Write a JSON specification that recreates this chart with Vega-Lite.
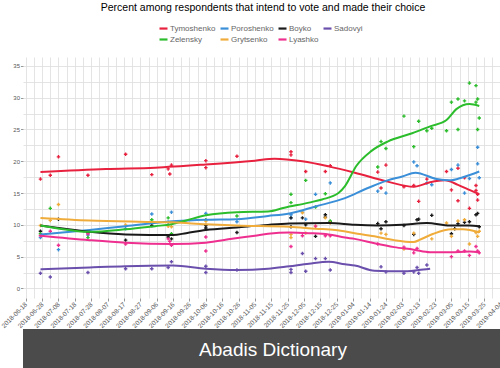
{
  "$schema": "https://vega.github.io/schema/vega-lite/v6.json",
  "padding": {"top": 2, "left": 0, "right": 0, "bottom": 0},
  "spacing": 0,
  "config": {"view": {"stroke": null}, "font": "Liberation Sans"},
  "datasets": {
    "polls": [
      {"date": "2018-06-27", "candidate": "Tymoshenko", "value": 17.2},
      {"date": "2018-07-03", "candidate": "Tymoshenko", "value": 17.8},
      {"date": "2018-07-08", "candidate": "Tymoshenko", "value": 20.7},
      {"date": "2018-07-26", "candidate": "Tymoshenko", "value": 17.8},
      {"date": "2018-08-18", "candidate": "Tymoshenko", "value": 21.1},
      {"date": "2018-09-03", "candidate": "Tymoshenko", "value": 17.9},
      {"date": "2018-09-13", "candidate": "Tymoshenko", "value": 18.8},
      {"date": "2018-09-14", "candidate": "Tymoshenko", "value": 18.0},
      {"date": "2018-09-15", "candidate": "Tymoshenko", "value": 19.4},
      {"date": "2018-10-06", "candidate": "Tymoshenko", "value": 20.1},
      {"date": "2018-10-06", "candidate": "Tymoshenko", "value": 19.0},
      {"date": "2018-10-25", "candidate": "Tymoshenko", "value": 20.8},
      {"date": "2018-11-27", "candidate": "Tymoshenko", "value": 21.5},
      {"date": "2018-11-27", "candidate": "Tymoshenko", "value": 21.0},
      {"date": "2018-12-06", "candidate": "Tymoshenko", "value": 18.4},
      {"date": "2018-12-18", "candidate": "Tymoshenko", "value": 18.4},
      {"date": "2018-12-21", "candidate": "Tymoshenko", "value": 19.3},
      {"date": "2019-01-19", "candidate": "Tymoshenko", "value": 18.3},
      {"date": "2019-01-21", "candidate": "Tymoshenko", "value": 15.8},
      {"date": "2019-01-24", "candidate": "Tymoshenko", "value": 19.4},
      {"date": "2019-02-04", "candidate": "Tymoshenko", "value": 16.0},
      {"date": "2019-02-10", "candidate": "Tymoshenko", "value": 16.2},
      {"date": "2019-02-13", "candidate": "Tymoshenko", "value": 13.7},
      {"date": "2019-02-18", "candidate": "Tymoshenko", "value": 17.2},
      {"date": "2019-03-02", "candidate": "Tymoshenko", "value": 18.4},
      {"date": "2019-03-05", "candidate": "Tymoshenko", "value": 15.5},
      {"date": "2019-03-09", "candidate": "Tymoshenko", "value": 18.9},
      {"date": "2019-03-09", "candidate": "Tymoshenko", "value": 13.8},
      {"date": "2019-03-13", "candidate": "Tymoshenko", "value": 17.4},
      {"date": "2019-03-16", "candidate": "Tymoshenko", "value": 12.6},
      {"date": "2019-03-20", "candidate": "Tymoshenko", "value": 16.2},
      {"date": "2019-03-20", "candidate": "Tymoshenko", "value": 15.4},
      {"date": "2019-03-21", "candidate": "Tymoshenko", "value": 14.8},
      {"date": "2019-03-21", "candidate": "Tymoshenko", "value": 13.9},
      {"date": "2018-06-27", "candidate": "Poroshenko", "value": 8.0},
      {"date": "2018-07-08", "candidate": "Poroshenko", "value": 6.1},
      {"date": "2018-07-26", "candidate": "Poroshenko", "value": 8.4},
      {"date": "2018-08-18", "candidate": "Poroshenko", "value": 9.4},
      {"date": "2018-09-03", "candidate": "Poroshenko", "value": 11.7},
      {"date": "2018-09-13", "candidate": "Poroshenko", "value": 10.4},
      {"date": "2018-09-15", "candidate": "Poroshenko", "value": 12.0},
      {"date": "2018-10-06", "candidate": "Poroshenko", "value": 11.8},
      {"date": "2018-10-25", "candidate": "Poroshenko", "value": 10.5},
      {"date": "2018-11-27", "candidate": "Poroshenko", "value": 11.6},
      {"date": "2018-11-27", "candidate": "Poroshenko", "value": 11.1},
      {"date": "2018-12-04", "candidate": "Poroshenko", "value": 12.0},
      {"date": "2018-12-06", "candidate": "Poroshenko", "value": 10.9},
      {"date": "2018-12-12", "candidate": "Poroshenko", "value": 14.8},
      {"date": "2018-12-21", "candidate": "Poroshenko", "value": 16.6},
      {"date": "2019-01-19", "candidate": "Poroshenko", "value": 15.3},
      {"date": "2019-01-24", "candidate": "Poroshenko", "value": 15.0},
      {"date": "2019-02-10", "candidate": "Poroshenko", "value": 19.9},
      {"date": "2019-02-12", "candidate": "Poroshenko", "value": 19.3},
      {"date": "2019-02-18", "candidate": "Poroshenko", "value": 16.6},
      {"date": "2019-02-21", "candidate": "Poroshenko", "value": 16.3},
      {"date": "2019-03-05", "candidate": "Poroshenko", "value": 18.7},
      {"date": "2019-03-09", "candidate": "Poroshenko", "value": 19.4},
      {"date": "2019-03-13", "candidate": "Poroshenko", "value": 15.0},
      {"date": "2019-03-16", "candidate": "Poroshenko", "value": 17.3},
      {"date": "2019-03-21", "candidate": "Poroshenko", "value": 22.2},
      {"date": "2019-03-21", "candidate": "Poroshenko", "value": 19.6},
      {"date": "2019-03-22", "candidate": "Poroshenko", "value": 17.4},
      {"date": "2018-06-27", "candidate": "Boyko", "value": 9.0},
      {"date": "2018-07-08", "candidate": "Boyko", "value": 10.9},
      {"date": "2018-07-26", "candidate": "Boyko", "value": 8.8},
      {"date": "2018-08-18", "candidate": "Boyko", "value": 7.6},
      {"date": "2018-09-03", "candidate": "Boyko", "value": 9.9},
      {"date": "2018-09-13", "candidate": "Boyko", "value": 8.1},
      {"date": "2018-09-15", "candidate": "Boyko", "value": 7.8},
      {"date": "2018-10-06", "candidate": "Boyko", "value": 9.9},
      {"date": "2018-10-06", "candidate": "Boyko", "value": 9.5},
      {"date": "2018-10-25", "candidate": "Boyko", "value": 8.8},
      {"date": "2018-11-27", "candidate": "Boyko", "value": 11.1},
      {"date": "2018-11-27", "candidate": "Boyko", "value": 9.7},
      {"date": "2018-12-04", "candidate": "Boyko", "value": 11.1},
      {"date": "2018-12-06", "candidate": "Boyko", "value": 10.0},
      {"date": "2018-12-12", "candidate": "Boyko", "value": 8.2},
      {"date": "2018-12-18", "candidate": "Boyko", "value": 11.6},
      {"date": "2018-12-18", "candidate": "Boyko", "value": 11.2},
      {"date": "2018-12-21", "candidate": "Boyko", "value": 10.5},
      {"date": "2019-01-19", "candidate": "Boyko", "value": 10.2},
      {"date": "2019-01-21", "candidate": "Boyko", "value": 9.4},
      {"date": "2019-01-24", "candidate": "Boyko", "value": 10.5},
      {"date": "2019-02-04", "candidate": "Boyko", "value": 9.9},
      {"date": "2019-02-10", "candidate": "Boyko", "value": 8.5},
      {"date": "2019-02-12", "candidate": "Boyko", "value": 10.8},
      {"date": "2019-02-13", "candidate": "Boyko", "value": 10.9},
      {"date": "2019-02-21", "candidate": "Boyko", "value": 11.5},
      {"date": "2019-03-05", "candidate": "Boyko", "value": 8.6},
      {"date": "2019-03-07", "candidate": "Boyko", "value": 9.4},
      {"date": "2019-03-09", "candidate": "Boyko", "value": 10.2},
      {"date": "2019-03-13", "candidate": "Boyko", "value": 10.4},
      {"date": "2019-03-16", "candidate": "Boyko", "value": 10.5},
      {"date": "2019-03-20", "candidate": "Boyko", "value": 11.6},
      {"date": "2019-03-21", "candidate": "Boyko", "value": 11.8},
      {"date": "2019-03-22", "candidate": "Boyko", "value": 9.7},
      {"date": "2018-06-27", "candidate": "Sadovyi", "value": 2.4},
      {"date": "2018-07-03", "candidate": "Sadovyi", "value": 1.8},
      {"date": "2018-07-26", "candidate": "Sadovyi", "value": 2.5},
      {"date": "2018-08-18", "candidate": "Sadovyi", "value": 3.1},
      {"date": "2018-09-03", "candidate": "Sadovyi", "value": 3.1},
      {"date": "2018-09-13", "candidate": "Sadovyi", "value": 3.3},
      {"date": "2018-09-15", "candidate": "Sadovyi", "value": 4.2},
      {"date": "2018-10-06", "candidate": "Sadovyi", "value": 3.5},
      {"date": "2018-10-06", "candidate": "Sadovyi", "value": 2.5},
      {"date": "2018-10-25", "candidate": "Sadovyi", "value": 2.9},
      {"date": "2018-11-27", "candidate": "Sadovyi", "value": 3.0},
      {"date": "2018-11-27", "candidate": "Sadovyi", "value": 2.5},
      {"date": "2018-12-04", "candidate": "Sadovyi", "value": 5.5},
      {"date": "2018-12-06", "candidate": "Sadovyi", "value": 2.7},
      {"date": "2018-12-12", "candidate": "Sadovyi", "value": 4.7},
      {"date": "2018-12-18", "candidate": "Sadovyi", "value": 4.7},
      {"date": "2018-12-21", "candidate": "Sadovyi", "value": 2.9},
      {"date": "2019-01-21", "candidate": "Sadovyi", "value": 3.4},
      {"date": "2019-01-24", "candidate": "Sadovyi", "value": 2.6},
      {"date": "2019-02-04", "candidate": "Sadovyi", "value": 2.4},
      {"date": "2019-02-10", "candidate": "Sadovyi", "value": 2.6},
      {"date": "2019-02-12", "candidate": "Sadovyi", "value": 3.3},
      {"date": "2019-02-13", "candidate": "Sadovyi", "value": 2.4},
      {"date": "2019-02-18", "candidate": "Sadovyi", "value": 3.7},
      {"date": "2018-06-27", "candidate": "Zelensky", "value": 8.6},
      {"date": "2018-07-03", "candidate": "Zelensky", "value": 12.6},
      {"date": "2018-07-26", "candidate": "Zelensky", "value": 8.0},
      {"date": "2018-09-03", "candidate": "Zelensky", "value": 10.8},
      {"date": "2018-09-13", "candidate": "Zelensky", "value": 11.1},
      {"date": "2018-09-15", "candidate": "Zelensky", "value": 8.6},
      {"date": "2018-10-06", "candidate": "Zelensky", "value": 10.8},
      {"date": "2018-10-25", "candidate": "Zelensky", "value": 11.4},
      {"date": "2018-11-27", "candidate": "Zelensky", "value": 14.8},
      {"date": "2018-11-27", "candidate": "Zelensky", "value": 13.5},
      {"date": "2018-12-06", "candidate": "Zelensky", "value": 17.0},
      {"date": "2018-12-12", "candidate": "Zelensky", "value": 12.8},
      {"date": "2018-12-18", "candidate": "Zelensky", "value": 14.9},
      {"date": "2018-12-21", "candidate": "Zelensky", "value": 10.6},
      {"date": "2019-01-19", "candidate": "Zelensky", "value": 19.1},
      {"date": "2019-01-21", "candidate": "Zelensky", "value": 23.1},
      {"date": "2019-01-24", "candidate": "Zelensky", "value": 22.0},
      {"date": "2019-02-04", "candidate": "Zelensky", "value": 27.1},
      {"date": "2019-02-10", "candidate": "Zelensky", "value": 22.3},
      {"date": "2019-02-13", "candidate": "Zelensky", "value": 26.3},
      {"date": "2019-02-18", "candidate": "Zelensky", "value": 24.8},
      {"date": "2019-02-21", "candidate": "Zelensky", "value": 25.2},
      {"date": "2019-03-02", "candidate": "Zelensky", "value": 24.8},
      {"date": "2019-03-05", "candidate": "Zelensky", "value": 29.3},
      {"date": "2019-03-09", "candidate": "Zelensky", "value": 29.8},
      {"date": "2019-03-09", "candidate": "Zelensky", "value": 25.0},
      {"date": "2019-03-13", "candidate": "Zelensky", "value": 29.5},
      {"date": "2019-03-16", "candidate": "Zelensky", "value": 32.3},
      {"date": "2019-03-20", "candidate": "Zelensky", "value": 31.9},
      {"date": "2019-03-20", "candidate": "Zelensky", "value": 29.3},
      {"date": "2019-03-21", "candidate": "Zelensky", "value": 29.8},
      {"date": "2019-03-21", "candidate": "Zelensky", "value": 25.0},
      {"date": "2019-03-22", "candidate": "Zelensky", "value": 26.8},
      {"date": "2018-06-27", "candidate": "Grytsenko", "value": 9.9},
      {"date": "2018-07-03", "candidate": "Grytsenko", "value": 10.7},
      {"date": "2018-07-08", "candidate": "Grytsenko", "value": 13.2},
      {"date": "2018-08-18", "candidate": "Grytsenko", "value": 10.0},
      {"date": "2018-09-13", "candidate": "Grytsenko", "value": 9.8},
      {"date": "2018-09-15", "candidate": "Grytsenko", "value": 9.7},
      {"date": "2018-10-06", "candidate": "Grytsenko", "value": 10.6},
      {"date": "2018-11-27", "candidate": "Grytsenko", "value": 8.5},
      {"date": "2018-11-27", "candidate": "Grytsenko", "value": 8.0},
      {"date": "2018-12-04", "candidate": "Grytsenko", "value": 11.9},
      {"date": "2018-12-06", "candidate": "Grytsenko", "value": 8.7},
      {"date": "2018-12-12", "candidate": "Grytsenko", "value": 9.8},
      {"date": "2018-12-18", "candidate": "Grytsenko", "value": 11.1},
      {"date": "2018-12-21", "candidate": "Grytsenko", "value": 10.3},
      {"date": "2019-01-21", "candidate": "Grytsenko", "value": 8.7},
      {"date": "2019-01-24", "candidate": "Grytsenko", "value": 8.5},
      {"date": "2019-02-04", "candidate": "Grytsenko", "value": 6.2},
      {"date": "2019-02-10", "candidate": "Grytsenko", "value": 8.7},
      {"date": "2019-02-21", "candidate": "Grytsenko", "value": 7.8},
      {"date": "2019-03-02", "candidate": "Grytsenko", "value": 10.3},
      {"date": "2019-03-05", "candidate": "Grytsenko", "value": 8.2},
      {"date": "2019-03-09", "candidate": "Grytsenko", "value": 10.6},
      {"date": "2019-03-13", "candidate": "Grytsenko", "value": 10.8},
      {"date": "2019-03-16", "candidate": "Grytsenko", "value": 7.0},
      {"date": "2019-03-20", "candidate": "Grytsenko", "value": 8.8},
      {"date": "2019-03-21", "candidate": "Grytsenko", "value": 8.2},
      {"date": "2019-03-22", "candidate": "Grytsenko", "value": 9.0},
      {"date": "2018-06-27", "candidate": "Lyashko", "value": 8.3},
      {"date": "2018-07-03", "candidate": "Lyashko", "value": 9.0},
      {"date": "2018-07-08", "candidate": "Lyashko", "value": 6.8},
      {"date": "2018-07-26", "candidate": "Lyashko", "value": 8.6},
      {"date": "2018-08-18", "candidate": "Lyashko", "value": 7.0},
      {"date": "2018-09-13", "candidate": "Lyashko", "value": 7.8},
      {"date": "2018-09-14", "candidate": "Lyashko", "value": 7.4},
      {"date": "2018-09-15", "candidate": "Lyashko", "value": 6.8},
      {"date": "2018-10-06", "candidate": "Lyashko", "value": 8.1},
      {"date": "2018-10-06", "candidate": "Lyashko", "value": 5.9},
      {"date": "2018-11-27", "candidate": "Lyashko", "value": 6.6},
      {"date": "2018-12-04", "candidate": "Lyashko", "value": 8.3},
      {"date": "2018-12-12", "candidate": "Lyashko", "value": 9.8},
      {"date": "2018-12-18", "candidate": "Lyashko", "value": 8.3},
      {"date": "2018-12-21", "candidate": "Lyashko", "value": 8.3},
      {"date": "2019-01-19", "candidate": "Lyashko", "value": 7.0},
      {"date": "2019-02-04", "candidate": "Lyashko", "value": 6.5},
      {"date": "2019-02-10", "candidate": "Lyashko", "value": 5.6},
      {"date": "2019-02-12", "candidate": "Lyashko", "value": 6.3},
      {"date": "2019-03-05", "candidate": "Lyashko", "value": 5.0},
      {"date": "2019-03-09", "candidate": "Lyashko", "value": 5.9},
      {"date": "2019-03-13", "candidate": "Lyashko", "value": 5.9},
      {"date": "2019-03-16", "candidate": "Lyashko", "value": 5.2},
      {"date": "2019-03-20", "candidate": "Lyashko", "value": 6.6},
      {"date": "2019-03-21", "candidate": "Lyashko", "value": 5.9},
      {"date": "2019-03-22", "candidate": "Lyashko", "value": 5.6}
    ],
    "trend": [
      {"date": "2018-06-27", "candidate": "Tymoshenko", "value": 18.3},
      {"date": "2018-08-06", "candidate": "Tymoshenko", "value": 18.8},
      {"date": "2018-09-05", "candidate": "Tymoshenko", "value": 19.0},
      {"date": "2018-10-06", "candidate": "Tymoshenko", "value": 19.5},
      {"date": "2018-11-05", "candidate": "Tymoshenko", "value": 20.1},
      {"date": "2018-11-17", "candidate": "Tymoshenko", "value": 20.4},
      {"date": "2018-12-04", "candidate": "Tymoshenko", "value": 20.0},
      {"date": "2018-12-20", "candidate": "Tymoshenko", "value": 19.2},
      {"date": "2019-01-05", "candidate": "Tymoshenko", "value": 18.2},
      {"date": "2019-01-25", "candidate": "Tymoshenko", "value": 16.8},
      {"date": "2019-02-10", "candidate": "Tymoshenko", "value": 16.0},
      {"date": "2019-02-20", "candidate": "Tymoshenko", "value": 16.7},
      {"date": "2019-03-01", "candidate": "Tymoshenko", "value": 17.0},
      {"date": "2019-03-09", "candidate": "Tymoshenko", "value": 16.3},
      {"date": "2019-03-16", "candidate": "Tymoshenko", "value": 15.5},
      {"date": "2019-03-22", "candidate": "Tymoshenko", "value": 14.8},
      {"date": "2018-06-27", "candidate": "Poroshenko", "value": 8.5},
      {"date": "2018-07-27", "candidate": "Poroshenko", "value": 9.2},
      {"date": "2018-08-18", "candidate": "Poroshenko", "value": 9.8},
      {"date": "2018-09-18", "candidate": "Poroshenko", "value": 10.6},
      {"date": "2018-10-06", "candidate": "Poroshenko", "value": 10.8},
      {"date": "2018-10-25", "candidate": "Poroshenko", "value": 10.9},
      {"date": "2018-11-13", "candidate": "Poroshenko", "value": 11.4},
      {"date": "2018-11-26", "candidate": "Poroshenko", "value": 11.8},
      {"date": "2018-12-12", "candidate": "Poroshenko", "value": 12.9},
      {"date": "2018-12-30", "candidate": "Poroshenko", "value": 14.2},
      {"date": "2019-01-13", "candidate": "Poroshenko", "value": 15.8},
      {"date": "2019-01-25", "candidate": "Poroshenko", "value": 17.0},
      {"date": "2019-02-03", "candidate": "Poroshenko", "value": 17.6},
      {"date": "2019-02-11", "candidate": "Poroshenko", "value": 18.2},
      {"date": "2019-02-24", "candidate": "Poroshenko", "value": 17.2},
      {"date": "2019-03-04", "candidate": "Poroshenko", "value": 17.0},
      {"date": "2019-03-12", "candidate": "Poroshenko", "value": 17.5},
      {"date": "2019-03-22", "candidate": "Poroshenko", "value": 18.4},
      {"date": "2018-06-27", "candidate": "Boyko", "value": 9.9},
      {"date": "2018-07-08", "candidate": "Boyko", "value": 9.5},
      {"date": "2018-07-27", "candidate": "Boyko", "value": 8.9},
      {"date": "2018-08-18", "candidate": "Boyko", "value": 8.5},
      {"date": "2018-09-16", "candidate": "Boyko", "value": 8.4},
      {"date": "2018-09-24", "candidate": "Boyko", "value": 8.7},
      {"date": "2018-10-06", "candidate": "Boyko", "value": 9.2},
      {"date": "2018-10-25", "candidate": "Boyko", "value": 9.6},
      {"date": "2018-11-13", "candidate": "Boyko", "value": 10.0},
      {"date": "2018-11-26", "candidate": "Boyko", "value": 10.2},
      {"date": "2018-12-20", "candidate": "Boyko", "value": 10.3},
      {"date": "2019-01-05", "candidate": "Boyko", "value": 10.0},
      {"date": "2019-01-19", "candidate": "Boyko", "value": 9.9},
      {"date": "2019-02-03", "candidate": "Boyko", "value": 10.0},
      {"date": "2019-02-18", "candidate": "Boyko", "value": 10.3},
      {"date": "2019-03-04", "candidate": "Boyko", "value": 9.9},
      {"date": "2019-03-16", "candidate": "Boyko", "value": 9.9},
      {"date": "2019-03-22", "candidate": "Boyko", "value": 9.8},
      {"date": "2018-06-27", "candidate": "Sadovyi", "value": 3.0},
      {"date": "2018-07-27", "candidate": "Sadovyi", "value": 3.3},
      {"date": "2018-08-18", "candidate": "Sadovyi", "value": 3.5},
      {"date": "2018-09-16", "candidate": "Sadovyi", "value": 3.6},
      {"date": "2018-10-06", "candidate": "Sadovyi", "value": 3.1},
      {"date": "2018-10-25", "candidate": "Sadovyi", "value": 2.9},
      {"date": "2018-11-13", "candidate": "Sadovyi", "value": 3.1},
      {"date": "2018-11-26", "candidate": "Sadovyi", "value": 3.5},
      {"date": "2018-12-08", "candidate": "Sadovyi", "value": 3.9},
      {"date": "2018-12-20", "candidate": "Sadovyi", "value": 4.2},
      {"date": "2018-12-30", "candidate": "Sadovyi", "value": 3.8},
      {"date": "2019-01-05", "candidate": "Sadovyi", "value": 3.6},
      {"date": "2019-01-17", "candidate": "Sadovyi", "value": 2.8},
      {"date": "2019-02-03", "candidate": "Sadovyi", "value": 2.7},
      {"date": "2019-02-13", "candidate": "Sadovyi", "value": 2.9},
      {"date": "2019-02-20", "candidate": "Sadovyi", "value": 3.1},
      {"date": "2018-06-27", "candidate": "Zelensky", "value": 9.9},
      {"date": "2018-07-17", "candidate": "Zelensky", "value": 9.1},
      {"date": "2018-07-27", "candidate": "Zelensky", "value": 8.9},
      {"date": "2018-08-18", "candidate": "Zelensky", "value": 9.3},
      {"date": "2018-09-05", "candidate": "Zelensky", "value": 9.8},
      {"date": "2018-09-15", "candidate": "Zelensky", "value": 10.1},
      {"date": "2018-09-24", "candidate": "Zelensky", "value": 10.7},
      {"date": "2018-10-06", "candidate": "Zelensky", "value": 11.5},
      {"date": "2018-10-25", "candidate": "Zelensky", "value": 12.0},
      {"date": "2018-11-13", "candidate": "Zelensky", "value": 12.1},
      {"date": "2018-11-23", "candidate": "Zelensky", "value": 12.7},
      {"date": "2018-12-08", "candidate": "Zelensky", "value": 13.5},
      {"date": "2018-12-16", "candidate": "Zelensky", "value": 14.0},
      {"date": "2018-12-26", "candidate": "Zelensky", "value": 15.0},
      {"date": "2018-12-30", "candidate": "Zelensky", "value": 16.1},
      {"date": "2019-01-06", "candidate": "Zelensky", "value": 19.3},
      {"date": "2019-01-15", "candidate": "Zelensky", "value": 21.6},
      {"date": "2019-01-25", "candidate": "Zelensky", "value": 23.1},
      {"date": "2019-02-09", "candidate": "Zelensky", "value": 24.4},
      {"date": "2019-02-20", "candidate": "Zelensky", "value": 25.5},
      {"date": "2019-03-02", "candidate": "Zelensky", "value": 26.5},
      {"date": "2019-03-08", "candidate": "Zelensky", "value": 28.2},
      {"date": "2019-03-16", "candidate": "Zelensky", "value": 29.0},
      {"date": "2019-03-22", "candidate": "Zelensky", "value": 28.7},
      {"date": "2018-06-27", "candidate": "Grytsenko", "value": 11.1},
      {"date": "2018-07-27", "candidate": "Grytsenko", "value": 10.7},
      {"date": "2018-08-26", "candidate": "Grytsenko", "value": 10.5},
      {"date": "2018-09-16", "candidate": "Grytsenko", "value": 10.4},
      {"date": "2018-10-06", "candidate": "Grytsenko", "value": 10.1},
      {"date": "2018-10-25", "candidate": "Grytsenko", "value": 9.9},
      {"date": "2018-11-26", "candidate": "Grytsenko", "value": 9.7},
      {"date": "2018-12-12", "candidate": "Grytsenko", "value": 9.4},
      {"date": "2018-12-24", "candidate": "Grytsenko", "value": 9.2},
      {"date": "2019-01-05", "candidate": "Grytsenko", "value": 8.7},
      {"date": "2019-01-17", "candidate": "Grytsenko", "value": 8.2},
      {"date": "2019-01-29", "candidate": "Grytsenko", "value": 7.6},
      {"date": "2019-02-10", "candidate": "Grytsenko", "value": 7.3},
      {"date": "2019-02-14", "candidate": "Grytsenko", "value": 7.7},
      {"date": "2019-02-22", "candidate": "Grytsenko", "value": 8.6},
      {"date": "2019-03-05", "candidate": "Grytsenko", "value": 9.3},
      {"date": "2019-03-12", "candidate": "Grytsenko", "value": 9.3},
      {"date": "2019-03-22", "candidate": "Grytsenko", "value": 8.8},
      {"date": "2018-06-27", "candidate": "Lyashko", "value": 8.3},
      {"date": "2018-07-27", "candidate": "Lyashko", "value": 7.6},
      {"date": "2018-08-18", "candidate": "Lyashko", "value": 7.2},
      {"date": "2018-09-16", "candidate": "Lyashko", "value": 7.0},
      {"date": "2018-10-06", "candidate": "Lyashko", "value": 7.2},
      {"date": "2018-10-22", "candidate": "Lyashko", "value": 7.8},
      {"date": "2018-11-05", "candidate": "Lyashko", "value": 8.3},
      {"date": "2018-11-13", "candidate": "Lyashko", "value": 8.6},
      {"date": "2018-11-26", "candidate": "Lyashko", "value": 8.8},
      {"date": "2018-12-08", "candidate": "Lyashko", "value": 8.7},
      {"date": "2018-12-20", "candidate": "Lyashko", "value": 8.5},
      {"date": "2018-12-30", "candidate": "Lyashko", "value": 8.0},
      {"date": "2019-01-05", "candidate": "Lyashko", "value": 7.8},
      {"date": "2019-01-17", "candidate": "Lyashko", "value": 7.1},
      {"date": "2019-01-29", "candidate": "Lyashko", "value": 6.5},
      {"date": "2019-02-10", "candidate": "Lyashko", "value": 6.1},
      {"date": "2019-02-20", "candidate": "Lyashko", "value": 5.7},
      {"date": "2019-03-04", "candidate": "Lyashko", "value": 5.7},
      {"date": "2019-03-16", "candidate": "Lyashko", "value": 5.8},
      {"date": "2019-03-22", "candidate": "Lyashko", "value": 5.7}
    ]
  },
  "vconcat": [
    {
      "width": 480,
      "height": 241,
      "title": {"text": "Percent among respondents that intend to vote and made their choice", "fontSize": 10.5, "fontWeight": "normal", "color": "#000000", "anchor": "middle", "frame": "group", "offset": 44},
      "encoding": {
        "x": {
          "field": "date", "type": "temporal",
          "scale": {"type": "utc", "domain": [1529136000000, 1554465600000]},
          "axis": {
            "title": null,
            "values": [1529280000000,1529712000000,1530144000000,1530576000000,1531008000000,1531440000000,1531872000000,1532304000000,1532736000000,1533168000000,1533600000000,1534032000000,1534464000000,1534896000000,1535328000000,1535760000000,1536192000000,1536624000000,1537056000000,1537488000000,1537920000000,1538352000000,1538784000000,1539216000000,1539648000000,1540080000000,1540512000000,1540944000000,1541376000000,1541808000000,1542240000000,1542672000000,1543104000000,1543536000000,1543968000000,1544400000000,1544832000000,1545264000000,1545696000000,1546128000000,1546560000000,1546992000000,1547424000000,1547856000000,1548288000000,1548720000000,1549152000000,1549584000000,1550016000000,1550448000000,1550880000000,1551312000000,1551744000000,1552176000000,1552608000000,1553040000000,1553472000000,1553904000000,1554336000000],
            "labelExpr": "((+datum.value) - 1529280000000) % 864000000 == 0 ? utcFormat(datum.value, '%Y-%m-%d') : ''",
            "labelAngle": -45, "labelAlign": "right", "labelBaseline": "middle",
            "labelFontSize": 6.5, "labelColor": "#555555", "labelPadding": 2,
            "labelOverlap": false, "labelFlush": false, "labelBound": false,
            "tickSize": 3, "tickColor": "#999999",
            "tickOpacity": {"condition": {"test": "((+datum.value) - 1529280000000) % 864000000 == 0", "value": 1}, "value": 0},
            "grid": true, "gridColor": "#dddddd", "gridWidth": 0.8,
            "domain": false, "minExtent": 28, "maxExtent": 28
          }
        },
        "y": {
          "field": "value", "type": "quantitative",
          "scale": {"domain": [-1.5, 36.4], "nice": false, "zero": false},
          "axis": {
            "title": null,
            "values": [0,2.5,5,7.5,10,12.5,15,17.5,20,22.5,25,27.5,30,32.5,35],
            "labelExpr": "datum.value % 5 == 0 ? datum.label : ''",
            "labelFontSize": 6, "labelColor": "#555555", "labelPadding": 1,
            "labelOverlap": false, "labelFlush": false,
            "tickSize": 2.5, "tickColor": "#999999",
            "tickOpacity": {"condition": {"test": "datum.value % 5 == 0", "value": 1}, "value": 0},
            "grid": true, "gridColor": "#dddddd", "gridWidth": 0.8,
            "domain": false, "minExtent": 16.7
          }
        },
        "color": {
          "field": "candidate", "type": "nominal",
          "scale": {
            "domain": ["Tymoshenko", "Poroshenko", "Boyko", "Sadovyi", "Zelensky", "Grytsenko", "Lyashko"],
            "range": ["#e8213f", "#3a8fd8", "#1a1a1a", "#6a4fac", "#2cbd2c", "#f0ac3a", "#ee2f8f"]
          },
          "legend": {
            "orient": "none", "legendX": 135, "legendY": -34,
            "direction": "horizontal", "columns": 4, "title": null,
            "symbolType": "stroke", "symbolStrokeWidth": 2.2, "symbolSize": 64,
            "labelFontSize": 8, "labelColor": "#666666", "labelOffset": 1,
            "columnPadding": 0, "rowPadding": 1, "padding": 0
          }
        }
      },
      "layer": [
        {
          "data": {"name": "polls"},
          "mark": {"type": "point", "shape": "cross", "filled": true, "size": 12, "opacity": 1}
        },
        {
          "data": {"name": "trend"},
          "mark": {"type": "line", "interpolate": "monotone", "strokeWidth": 2}
        }
      ]
    },
    {
      "width": 500,
      "height": 41,
      "view": {"fill": "#4b4b4b", "stroke": null},
      "data": {"values": [{"label": "Abadis Dictionary"}]},
      "mark": {"type": "text", "color": "#ffffff", "fontSize": 19, "font": "Liberation Sans"},
      "encoding": {"text": {"field": "label", "type": "nominal"}}
    }
  ]
}
